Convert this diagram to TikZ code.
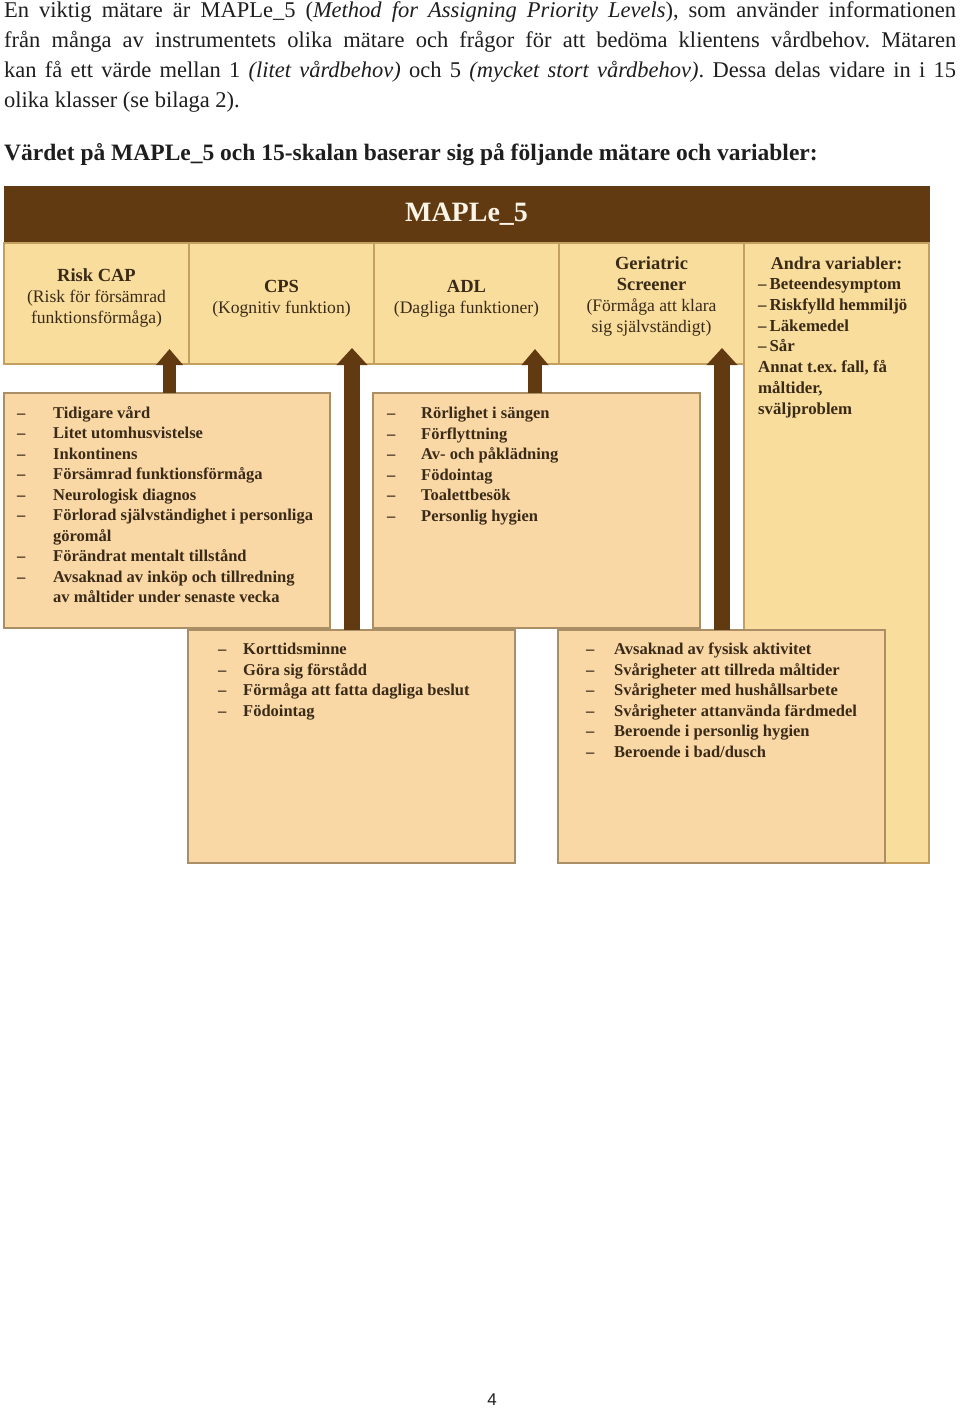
\documentclass[tikz,border=0pt]{standalone}
\usepackage{fontspec}
\setmainfont{Liberation Serif}
\newfontfamily\pagefont{Liberation Sans}
\usepackage{tikz}
\usetikzlibrary{positioning, arrows.meta, calc}
\definecolor{maplebrown}{RGB}{98, 58, 18}
\definecolor{maplecream}{RGB}{252, 244, 230}
\definecolor{capfill}{RGB}{248, 221, 156}
\definecolor{capborder}{RGB}{196, 160, 96}
\definecolor{listfill}{RGB}{249, 216, 166}
\definecolor{listborder}{RGB}{170, 142, 102}
\definecolor{inktext}{RGB}{58, 42, 24}
\definecolor{pagetext}{RGB}{30, 30, 30}
\newcommand{\dashrow}[2]{\makebox[#1][l]{–}#2}
\frenchspacing

\begin{document}
\begin{tikzpicture}[
    x=1pt, y=-1pt,
    % -------------------------------------------------
    % Page text
    % -------------------------------------------------
    bodytext/.style={
        anchor=north west,
        inner sep=0pt,
        text width=952pt,
        align=justify,
        text=pagetext,
        font=\fontsize{22.5}{30}\selectfont
    },
    % -------------------------------------------------
    % Node styles
    % -------------------------------------------------
    headerbox/.style={
        rectangle,
        draw=maplebrown,
        fill=maplebrown,
        minimum width=925pt,
        minimum height=57pt,
        inner sep=0pt,
        outer sep=0pt,
        anchor=north west,
        text=maplecream,
        font=\fontsize{28}{30}\selectfont\bfseries
    },
    capbox/.style={
        rectangle,
        draw=capborder,
        fill=capfill,
        line width=1.2pt,
        minimum width=185pt,
        minimum height=121pt,
        inner sep=0pt,
        outer sep=0pt
    },
    listbox/.style={
        rectangle,
        draw=listborder,
        fill=listfill,
        line width=1.2pt,
        minimum width=327pt,
        minimum height=235pt,
        inner sep=0pt,
        outer sep=0pt,
        anchor=north west
    },
    captext/.style={
        align=center,
        inner sep=0pt,
        text=inktext,
        font=\fontsize{17.6}{20.8}\selectfont
    },
    itemtext/.style={
        align=left,
        anchor=north west,
        inner sep=0pt,
        text=inktext,
        font=\fontsize{16.5}{20.5}\selectfont\bfseries
    },
    % -------------------------------------------------
    % Connections
    % -------------------------------------------------
    bigarrow/.style={
        -{Triangle[width=26pt, length=16pt]},
        line width=13.5pt,
        draw=maplebrown,
        fill=maplebrown
    },
    widearrow/.style={
        -{Triangle[width=30pt, length=17pt]},
        line width=16pt,
        draw=maplebrown,
        fill=maplebrown
    }
]

\useasboundingbox (0,0) rectangle (960,1409);

% =====================================================
% Intro text
% =====================================================

\node[bodytext] (intro) at (4,1)
    {En viktig mätare är MAPLe\_5 (\textit{Method for Assigning Priority Levels}), som använder informationen\linebreak
     från många av instrumentets olika mätare och frågor för att bedöma klientens vårdbehov. Mätaren\linebreak
     kan få ett värde mellan 1 \textit{(litet vårdbehov)} och 5 \textit{(mycket stort vårdbehov)}. Dessa delas vidare in i 15\linebreak
     olika klasser (se bilaga 2).};

\node[bodytext, font=\fontsize{23.5}{30}\selectfont\bfseries] (lead) at (4,143)
    {Värdet på MAPLe\_5 och 15-skalan baserar sig på följande mätare och variabler:};

% =====================================================
% MAPLe_5 header
% =====================================================

\node[headerbox] (header) at (4,186) {MAPLe\_5};

% =====================================================
% Measures row
% =====================================================

\node[capbox, anchor=north west] (riskcap) at (header.south west) {};
\node[capbox, right=0pt of riskcap] (cps) {};
\node[capbox, right=0pt of cps] (adl) {};
\node[capbox, right=0pt of adl] (geriatric) {};
\node[capbox, anchor=north west, minimum height=620pt] (andra) at (geriatric.north east) {};

\node[captext] (riskcaptext) at ([yshift=5.5pt]riskcap.center)
    {\textbf{\fontsize{18.5}{20.8}\selectfont Risk CAP}\\(Risk för försämrad\\funktionsförmåga)};
\node[captext] (cpstext) at ([yshift=5pt]cps.center)
    {\textbf{\fontsize{18.5}{20.8}\selectfont CPS}\\(Kognitiv funktion)};
\node[captext] (adltext) at ([yshift=5pt]adl.center)
    {\textbf{\fontsize{18.5}{20.8}\selectfont ADL}\\(Dagliga funktioner)};
\node[captext] (geriatrictext) at ([yshift=7pt]geriatric.center)
    {\textbf{\fontsize{18.5}{20.8}\selectfont Geriatric}\\\textbf{\fontsize{18.5}{20.8}\selectfont Screener}\\(Förmåga att klara\\sig självständigt)};

\node[captext, font=\fontsize{18}{21}\selectfont\bfseries, below=14pt of andra.north] (andratitle)
    {Andra variabler:};
\node[itemtext, font=\fontsize{16.8}{20.7}\selectfont\bfseries] (andratext) at ([shift={(14pt,-35pt)}]andra.north west)
    {–\hspace{3pt}Beteendesymptom\\
     –\hspace{3pt}Riskfylld hemmiljö\\
     –\hspace{3pt}Läkemedel\\
     –\hspace{3pt}Sår\\
     Annat t.ex. fall, få\\
     måltider,\\
     sväljproblem};

% =====================================================
% Item lists
% =====================================================

\node[listbox, minimum width=326pt] (risklist) at (4,393) {};
\node[listbox, right=43pt of risklist] (adllist) {};
\node[listbox, minimum height=233pt] (cpslist) at (188,630) {};
\node[listbox, minimum height=233pt, right=43pt of cpslist] (gerlist) {};

\node[itemtext] (risktext) at ([shift={(13pt,-13pt)}]risklist.north west)
    {\dashrow{36pt}{Tidigare vård}\\
     \dashrow{36pt}{Litet utomhusvistelse}\\
     \dashrow{36pt}{Inkontinens}\\
     \dashrow{36pt}{Försämrad funktionsförmåga}\\
     \dashrow{36pt}{Neurologisk diagnos}\\
     \dashrow{36pt}{Förlorad självständighet i personliga}\\
     \hspace*{36pt}göromål\\
     \dashrow{36pt}{Förändrat mentalt tillstånd}\\
     \dashrow{36pt}{Avsaknad av inköp och tillredning}\\
     \hspace*{36pt}av måltider under senaste vecka};

\node[itemtext] (adltext2) at ([shift={(14pt,-14pt)}]adllist.north west)
    {\dashrow{34pt}{Rörlighet i sängen}\\
     \dashrow{34pt}{Förflyttning}\\
     \dashrow{34pt}{Av- och påklädning}\\
     \dashrow{34pt}{Födointag}\\
     \dashrow{34pt}{Toalettbesök}\\
     \dashrow{34pt}{Personlig hygien}};

\node[itemtext] (cpstext2) at ([shift={(30pt,-13pt)}]cpslist.north west)
    {\dashrow{25pt}{Korttidsminne}\\
     \dashrow{25pt}{Göra sig förstådd}\\
     \dashrow{25pt}{Förmåga att fatta dagliga beslut}\\
     \dashrow{25pt}{Födointag}};

\node[itemtext] (gertext) at ([shift={(28pt,-13pt)}]gerlist.north west)
    {\dashrow{28pt}{Avsaknad av fysisk aktivitet}\\
     \dashrow{28pt}{Svårigheter att tillreda måltider}\\
     \dashrow{28pt}{Svårigheter med hushållsarbete}\\
     \dashrow{28pt}{Svårigheter attanvända färdmedel}\\
     \dashrow{28pt}{Beroende i personlig hygien}\\
     \dashrow{28pt}{Beroende i bad/dusch}};

% =====================================================
% Lists -> measures
% =====================================================

\draw[bigarrow]
    ([xshift=-19.5pt]riskcap.south east |- risklist.north) -- ([xshift=-19.5pt, yshift=15pt]riskcap.south east);

\draw[widearrow]
    ([xshift=-22pt]cps.south east |- cpslist.north) -- ([xshift=-22pt, yshift=16pt]cps.south east);

\draw[bigarrow]
    ([xshift=-24pt]adl.south east |- adllist.north) -- ([xshift=-24pt, yshift=15pt]adl.south east);

\draw[widearrow]
    ([xshift=-22pt]geriatric.south east |- gerlist.north) -- ([xshift=-22pt, yshift=16pt]geriatric.south east);

% =====================================================
% Page number
% =====================================================

\node[font=\pagefont\fontsize{17}{20}\selectfont, text=pagetext] (pagenum) at (492,1400) {4};

\end{tikzpicture}
\end{document}
